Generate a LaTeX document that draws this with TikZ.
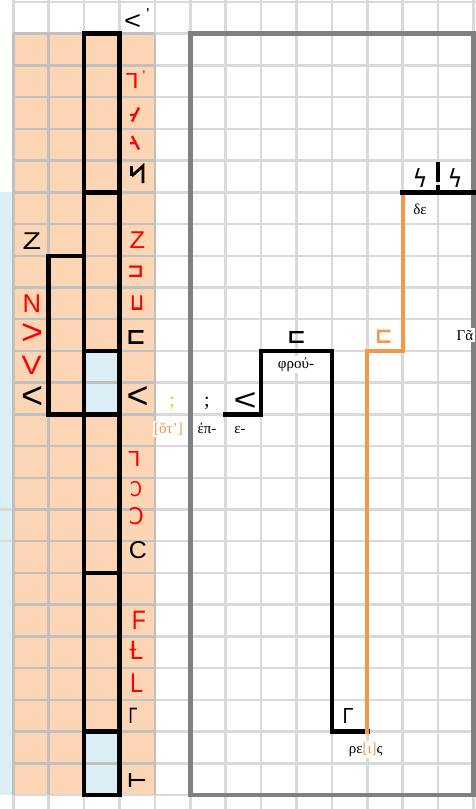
\documentclass[tikz,border=0pt]{standalone}
\usepackage{fontspec}
\setmainfont{Liberation Serif}
\newfontfamily\arialf{Liberation Sans}
\newfontfamily\dejavu{DejaVu Sans}
\newfontfamily\dejavub{DejaVu Sans Bold}
\definecolor{peach}{HTML}{FCD5B4}
\definecolor{lblue}{HTML}{DAEEF3}
\definecolor{gridc}{HTML}{D9D9D9}
\definecolor{gridp}{HTML}{C0C0C0}
\definecolor{frameg}{HTML}{808080}
\definecolor{redc}{HTML}{FF0000}
\definecolor{orangec}{HTML}{F79646}
\definecolor{goldc}{HTML}{FFC000}
\newcommand\gl[3]{\resizebox{#1pt}{#2pt}{#3}}
\begin{document}
\begin{tikzpicture}[x=1pt,y=-1pt,
  gridline/.style={draw=gridc,line width=2.5pt},
  gridpeach/.style={draw=gridp,line width=2.5pt},
  glyph/.style={inner sep=0pt,outer sep=0pt,anchor=center},
  stroke/.style={line width=2.3pt},
  lbl/.style={fill=white,inner sep=1.5pt,anchor=base,font=\fontsize{15}{15}\selectfont},
  heavy/.style={line width=4.5pt,line cap=rect},
  frame/.style={draw=frameg,line width=4.5pt}]
\useasboundingbox (0,0) rectangle (476,809);
% backgrounds
\fill[white] (0,0) rectangle (476,809);
\fill[peach] (13.3,33.72) rectangle (154.9,795);
\fill[lblue] (0,192.32) rectangle (13.3,795);
\fill[lblue] (84.1,350.92) rectangle (119.5,414.36);
\fill[lblue] (84.1,731.56) rectangle (119.5,795);
% grid
\foreach \k in {0,...,13} \draw[gridline] ({13.3+35.4*\k},0) -- ({13.3+35.4*\k},809);
\foreach \k in {0,...,25} \draw[gridline] (13.3,{2+31.72*\k}) -- (476,{2+31.72*\k});
\foreach \k in {16,17} \draw[gridline] (0,{2+31.72*\k}) -- (13.3,{2+31.72*\k});
\foreach \k in {0,...,4} \draw[gridpeach] ({13.3+35.4*\k},33.72) -- ({13.3+35.4*\k},795);
\foreach \k in {1,...,24} \draw[gridpeach] (13.3,{2+31.72*\k}) -- (154.9,{2+31.72*\k});
% right frame
\draw[frame] (190.3,33.72) rectangle (473.5,795);
% left boxes
\draw[heavy] (84.1,33.72) rectangle (119.5,795);
\foreach \y in {192.32,350.92,414.36,572.96,731.56} \draw[heavy] (84.1,\y) -- (119.5,\y);
\draw[heavy] (48.7,255.76) rectangle (84.1,414.36);
% column 3 glyphs
\node[glyph] (c0a) at (132.5,21.5) {\gl{17}{15}{\arialf <}};
\node[glyph] (c0b) at (148,13.5) {\arialf\fontsize{16}{16}\selectfont\textquotesingle};
\node[glyph,text=redc] (c2a) at (132.7,80.8) {\gl{12.5}{15}{\dejavu ⅂}};
\node[glyph,text=redc] (c2b) at (144,76) {\arialf\fontsize{14}{14}\selectfont\textquotesingle};
\draw[stroke,redc] (139,107.5) -- (132,121.5);
\draw[stroke,redc] (130.2,115) -- (135.8,114.5);
\draw[stroke,redc] (132,136) -- (139,149.5);
\draw[stroke,redc] (130.2,143.2) -- (135.8,143);
\draw[line width=2.8pt] (131.8,166) -- (131.8,176);
\draw[line width=2.8pt] (131.8,176) -- (143,166) -- (143,183);
\node[glyph,text=redc] (c7) at (137.3,240) {\gl{15.5}{16.7}{\arialf Z}};
\node[glyph,text=redc] (c8) at (135.5,271.7) {\gl{17}{11.5}{\dejavub ⊐}};
\node[glyph,text=redc] (c9) at (137,303.3) {\gl{14}{14.7}{\dejavub ⊔}};
\node[glyph] (c10) at (136,337) {\gl{20}{14}{\dejavub ⊏}};
\node[glyph] (c12) at (137.5,397.5) {\gl{22}{22}{\arialf <}};
\node[glyph,text=redc] (c14) at (134.7,459.2) {\gl{12}{15}{\dejavu ⅂}};
\node[glyph,text=redc] (c15) at (136,489.2) {\gl{12}{15}{\dejavu Ↄ}};
\node[glyph,text=redc] (c16) at (136.3,516.5) {\gl{15}{17}{\dejavu Ↄ}};
\node[glyph] (c17) at (137.8,550) {\gl{18}{17}{\arialf C}};
\node[glyph,text=redc] (c19) at (138.8,620.8) {\gl{14}{18.3}{\arialf F}};
\node[glyph,text=redc] (c20) at (136,650.8) {\gl{13}{18.3}{\dejavu Ƚ}};
\node[glyph,text=redc] (c21) at (136.7,683.3) {\gl{13}{18.7}{\arialf L}};
\node[glyph] (c22) at (133,715.7) {\gl{9}{15.3}{\arialf Γ}};
\node[glyph] (c24) at (137.2,780) {\gl{20}{14}{\dejavub ⊢}};
% column 0 glyphs
\node[glyph] (z0) at (32,241) {\gl{18.5}{16.7}{\arialf Z}};
\node[glyph,text=redc] (n0) at (32,303.8) {\gl{18.5}{17.7}{\arialf N}};
\node[glyph,text=redc] (g0) at (32.2,333.8) {\gl{22}{21}{\arialf >}};
\node[glyph,text=redc] (v0) at (31.7,365.8) {\gl{20}{18.3}{\arialf V}};
\node[glyph] (l0) at (32.2,397.5) {\gl{22}{22}{\arialf <}};
% right-hand labels
\node[lbl,text=goldc,fill=none] (sq1) at (172,406) {\fontsize{20}{20}\selectfont;};
\node[lbl,fill=none] (sq2) at (207,406) {\fontsize{20}{20}\selectfont;};
\node[glyph] (lt) at (245,401) {\gl{23}{18}{\arialf <}};
\node[lbl,text=orangec] (hot) at (168.5,433) {[ὅτ’]};
\node[lbl] (ep) at (207,433) {ἐπ-};
\node[lbl] (eps) at (240,433) {ε-};
\node[lbl] (phrou) at (296,368) {φρού-};
\node[glyph] (sq3) at (296.5,337.5) {\gl{19}{12}{\dejavub ⊏}};
\node[glyph,text=orangec] (sq4) at (383.8,336.7) {\gl{18}{13.3}{\dejavub ⊏}};
\node[lbl] (de) at (420,214) {δε};
\node[lbl,anchor=base west] (ga) at (455,340) {Γᾶ};
\node[glyph] (k1) at (420,177.5) {\gl{15}{19}{\dejavu ϟ}};
\node[glyph] (k2) at (455,177.5) {\gl{15}{19}{\dejavu ϟ}};
\node[glyph] (gam) at (348,715.5) {\gl{11}{15}{\arialf Γ}};
\node[lbl] (reis) at (365.7,753) {ρε{\color{orangec}[ι]}ς};
% staircase
\draw[heavy] (225.7,414.36) -- (261.1,414.36) -- (261.1,350.92) -- (331.9,350.92) -- (331.9,731.56) -- (367.3,731.56);
\draw[heavy,orangec,line width=4pt] (367.3,731.56) -- (367.3,350.92) -- (402.7,350.92) -- (402.7,192.32);
\draw[heavy] (402.7,192.32) -- (473.5,192.32);
\fill (435.9,162) rectangle (440.3,181.5);
\fill (435.9,185) rectangle (440.3,192);
\end{tikzpicture}
\end{document}
